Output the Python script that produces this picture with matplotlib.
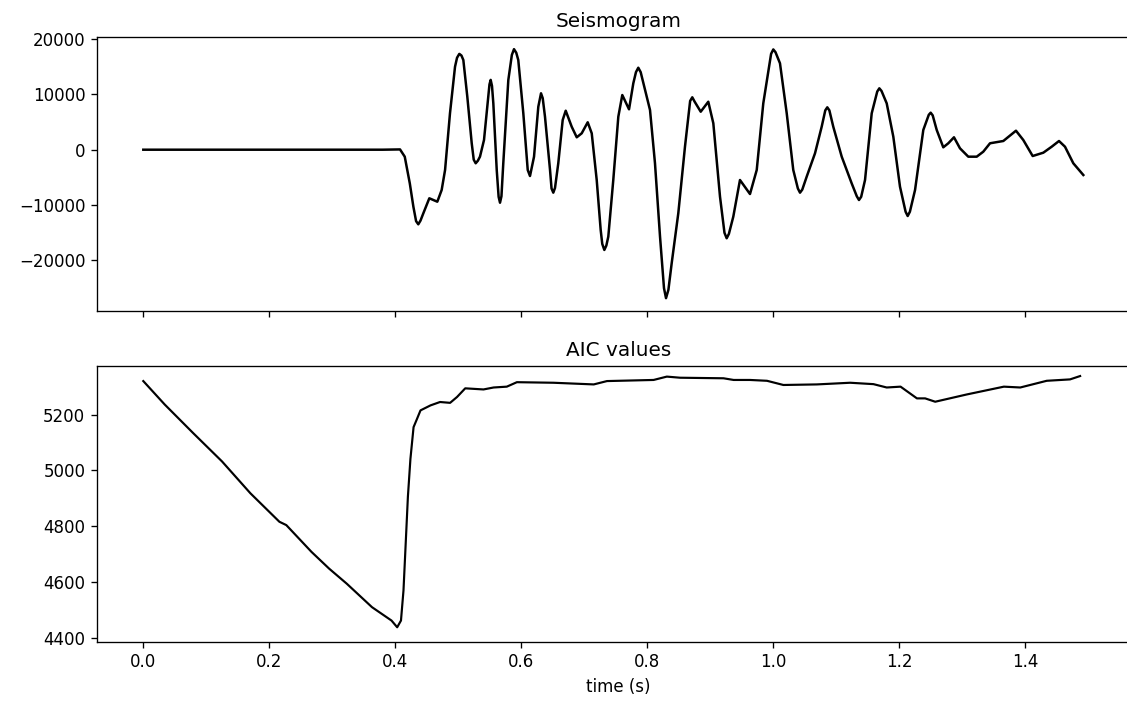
import matplotlib
matplotlib.use("Agg")
import matplotlib.pyplot as plt

# Seismogram samples: time (s) and amplitude
seis_t = [0.0, 0.1, 0.2, 0.3, 0.38, 0.4075, 0.415, 0.423, 0.4287, 0.433,
          0.4365, 0.440, 0.4445, 0.454, 0.4667, 0.4736, 0.479, 0.4868, 0.4948, 0.498,
          0.5016, 0.505, 0.508, 0.5143, 0.5213, 0.5245, 0.5276, 0.531, 0.5344, 0.5408,
          0.5476, 0.5495, 0.5514, 0.5535, 0.5556, 0.561, 0.564, 0.5662, 0.5685, 0.5714,
          0.5794, 0.585, 0.5884, 0.592, 0.5952, 0.6032, 0.6102, 0.6138, 0.6202, 0.627,
          0.6313, 0.634, 0.6376, 0.6456, 0.648, 0.6508, 0.6535, 0.6587, 0.6657, 0.6705,
          0.68, 0.688, 0.6959, 0.7054, 0.7118, 0.7197, 0.726, 0.7285, 0.7318, 0.735,
          0.7381, 0.746, 0.754, 0.7603, 0.771, 0.7778, 0.782, 0.7857, 0.7895, 0.7964,
          0.8043, 0.8122, 0.8202, 0.8265, 0.8297, 0.8335, 0.8387, 0.8492, 0.8598, 0.868,
          0.8714, 0.875, 0.8848, 0.8968, 0.9048, 0.9154, 0.9225, 0.926, 0.9295, 0.9365,
          0.9471, 0.963, 0.9737, 0.9841, 0.9965, 1.0, 1.0035, 1.0106, 1.0213, 1.0317,
          1.039, 1.0424, 1.046, 1.053, 1.0662, 1.0768, 1.0825, 1.0857, 1.089, 1.0952,
          1.1086, 1.1244, 1.1325, 1.136, 1.1395, 1.1456, 1.1562, 1.165, 1.1683, 1.1718,
          1.18, 1.1905, 1.2011, 1.21, 1.2133, 1.2168, 1.225, 1.2381, 1.2468, 1.2498,
          1.253, 1.2594, 1.2698, 1.2778, 1.2868, 1.2963, 1.3095, 1.3229, 1.3333, 1.344,
          1.3651, 1.3852, 1.3968, 1.4117, 1.4286, 1.4419, 1.4535, 1.463, 1.4762, 1.4921]
seis_v = [0, 0, 0, 0, 0, 50, -1260, -6070, -10290, -12900,
          -13470, -12800, -11480, -8770, -9390, -7270, -3660, 6570, 14980, 16600,
          17300, 17000, 16190, 9570, 1160, -1800, -2450, -2000, -1260, 1750,
          9570, 11800, 12600, 11500, 8370, -3660, -8500, -9570, -8400, -2450,
          12580, 17100, 18150, 17500, 16190, 6570, -3660, -4750, -1260, 7760,
          10180, 9300, 5960, -3660, -7000, -7760, -6900, -2450, 5360, 7040,
          4150, 2240, 2960, 4950, 2960, -5470, -14490, -17000, -18100, -17300,
          -15700, -5470, 5960, 9870, 7290, 11990, 14000, 14800, 14000, 10780,
          7170, -2450, -15700, -25000, -26800, -25300, -20500, -11480, 540, 8800,
          9460, 8700, 6860, 8660, 4770, -8480, -15000, -15990, -15200, -12090,
          -5470, -8000, -3660, 8370, 17300, 18100, 17600, 15600, 6570, -3660,
          -7000, -7760, -7200, -4870, -650, 4150, 7100, 7650, 7100, 4150,
          -1260, -6070, -8400, -9080, -8500, -5470, 6570, 10500, 11080, 10600,
          8370, 2350, -6680, -11200, -11970, -11200, -7270, 3560, 6300, 6680,
          6200, 3560, 430, 1160, 2240, 250, -1260, -1260, -360, 1160,
          1570, 3430, 1750, -1140, -540, 540, 1570, 540, -2450, -4570]

# AIC values: time (s) and AIC
aic_t = [0.0, 0.034, 0.079, 0.125, 0.170, 0.216, 0.227, 0.267, 0.295, 0.323, 0.363, 0.394,
         0.403, 0.409, 0.413, 0.420, 0.424, 0.429, 0.434, 0.440, 0.456, 0.471, 0.487, 0.498,
         0.511, 0.540, 0.556, 0.577, 0.593, 0.651, 0.715, 0.736, 0.810, 0.831, 0.852, 0.921,
         0.937, 0.963, 0.990, 1.016, 1.069, 1.122, 1.159, 1.180, 1.202, 1.228, 1.241, 1.257,
         1.307, 1.366, 1.392, 1.434, 1.471, 1.487]
aic_v = [5320, 5236, 5134, 5032, 4918, 4816, 4804, 4708, 4648, 4594, 4510, 4462,
         4438, 4462, 4570, 4906, 5041, 5155, 5182, 5215, 5233, 5245, 5242, 5263,
         5294, 5290, 5297, 5300, 5316, 5314, 5308, 5320, 5324, 5336, 5332, 5330,
         5324, 5324, 5321, 5306, 5308, 5314, 5309, 5297, 5300, 5258, 5258, 5246,
         5272, 5300, 5297, 5321, 5326, 5338]

seis_yticks = [-20000, -10000, 0, 10000, 20000]
aic_yticks = [4400, 4600, 4800, 5000, 5200]
time_ticks = [0.0, 0.2, 0.4, 0.6, 0.8, 1.0, 1.2, 1.4]

DPI = 120
W, H = 1127.0, 702.0
fig = plt.figure(figsize=(W / DPI, H / DPI), dpi=DPI)
x0, x_right = 97.0, 1140.0
left = x0 / W
width = (x_right - x0) / W
ax1 = fig.add_axes([left, 1 - 311 / H, width, (311 - 36.7) / H])
ax2 = fig.add_axes([left, 1 - 641.5 / H, width, (641.5 - 366) / H], sharex=ax1)

ax1.plot(seis_t, seis_v, color='k', lw=1.5, solid_joinstyle='round')
ax1.set_title("Seismogram")
ax1.tick_params(labelbottom=False)

ax2.plot(aic_t, aic_v, color='k', lw=1.3, solid_joinstyle='round')
ax2.set_title("AIC values")
ax2.set_xlabel("time (s)")

# x pixel scale: 0.0 at 143.3 px, 630 px per second
px_per_s = 630.0
ax1.set_xlim((x0 - 143.3) / px_per_s, (x_right - 143.3) / px_per_s)
ax1.set_ylim(-29120, 20400)
ax2.set_ylim(4387, 5374)
ax1.set_yticks(seis_yticks)
ax2.set_yticks(aic_yticks)
ax2.set_xticks(time_ticks)

fig.savefig("out.png", dpi=DPI)
